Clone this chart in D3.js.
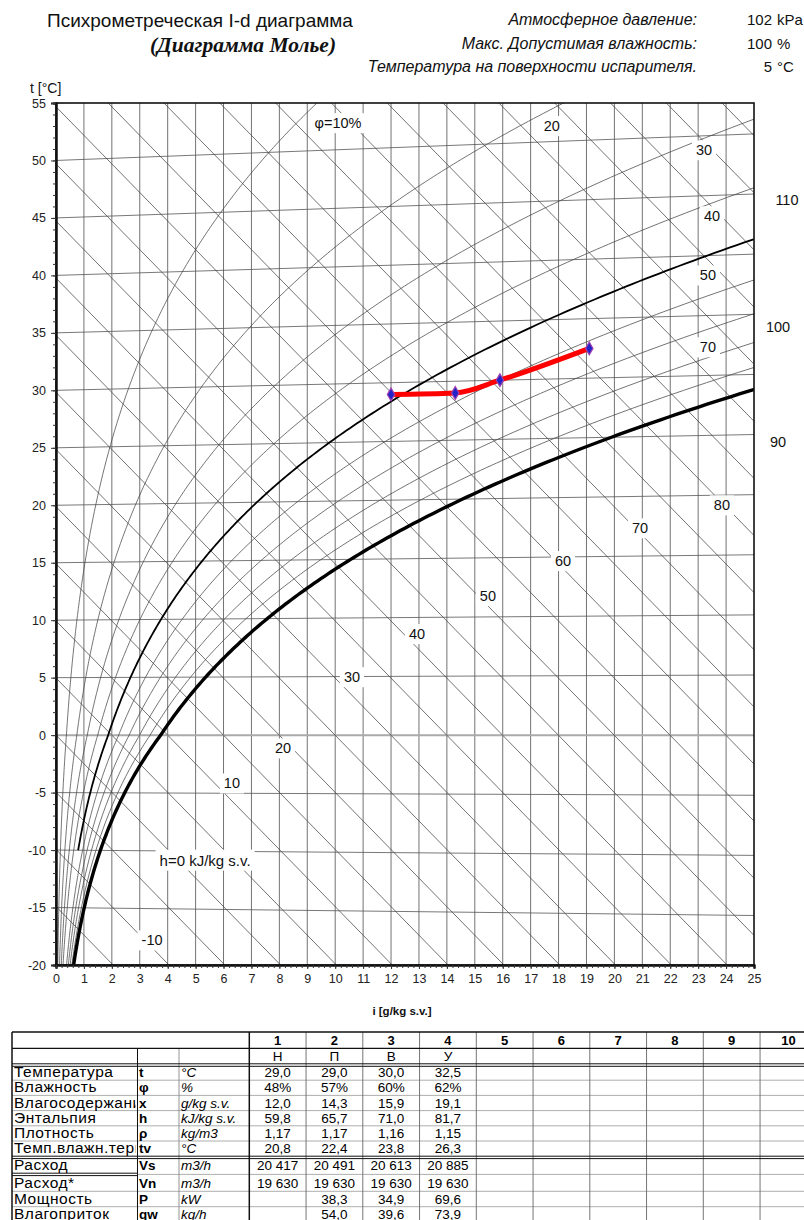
<!DOCTYPE html>
<html>
<head>
<meta charset="utf-8">
<script src="https://cdn.jsdelivr.net/npm/d3@7"></script>
<style>
  body { margin: 0; background: #fff; }
  text { font-family: Arial, "Liberation Sans", sans-serif; }
</style>
</head>
<body>
<div id="chart"></div>
<script>
// --- header info
const infoLabels = ["Атмосферное давление:", "Макс. Допустимая влажность:", "Температура на поверхности испарителя."];
const infoNums = ["102", "100", "5"];
const infoUnits = ["kPa", "%", "°C"];
const pressure = 102; // kPa

// --- process points (Н, П, В, У)
const pointIds = [1, 2, 3, 4, 5, 6, 7, 8, 9, 10];
const pointNames = ["Н", "П", "В", "У"];
const pointX = [12.0, 14.3, 15.9, 19.1];
const pointT = [29.0, 29.0, 30.0, 32.5];
const pointPhi = [48, 57, 60, 62];
const pointH = [59.8, 65.7, 71.0, 81.7];
const pointRho = [1.17, 1.17, 1.16, 1.15];
const pointTv = [20.8, 22.4, 23.8, 26.3];
const pointVs = [20417, 20491, 20613, 20885];
const pointVn = [19630, 19630, 19630, 19630];
const pointPower = [null, 38.3, 34.9, 69.6];
const pointQw = [null, 54.0, 39.6, 73.9];

// --- table rows
const rowNames = ["Температура", "Влажность", "Влагосодержание", "Энтальпия", "Плотность",
  "Темп.влажн.термометра", "Расход", "Расход*", "Мощность", "Влагоприток"];
const rowSymbols = ["t", "φ", "x", "h", "ρ", "tv", "Vs", "Vn", "P", "qw"];
const rowUnits = ["°C", "%", "g/kg s.v.", "kJ/kg s.v.", "kg/m3", "°C", "m3/h", "m3/h", "kW", "kg/h"];

// --- chart line families
const tTicks = d3.range(-20, 56, 5);
const xTicks = d3.range(0, 26, 1);
const hLevels = d3.range(-20, 120, 5);
const phiThin = [10, 20, 30, 40, 60, 70, 80, 90];
const phiMid = 50;
const phiSat = 100;

// labels on the lines, anchored in chart units [g/kg, °C]
const hLabelText = ["h=0 kJ/kg s.v.", "-10", "10", "20", "30", "40", "50", "60", "70", "80", "90", "100", "110"];
const hLabelAt = [[5.34, -10.9], [3.44, -17.85], [6.3, -4.2], [8.13, -1.15], [10.6, 5.05], [12.93, 8.8],
  [15.47, 12.1], [18.16, 15.15], [20.92, 18.0], [23.85, 20.0], [25.86, 25.5], [25.86, 35.5], [26.18, 46.55]];
const phiLabelText = ["φ=10%", "20", "30", "40", "50", "70"];
const phiLabelAt = [[10.1, 53.25], [17.76, 53.0], [23.21, 50.9], [23.5, 45.15], [23.35, 40.0], [23.35, 33.75]];

// --- psychrometrics
const ps = (t) => t >= 0
  ? 0.61094 * Math.exp(17.625 * t / (t + 243.04))
  : 0.61115 * Math.exp(22.452 * t / (272.55 + t));
const moist = (t, phi) => {
  const pv = phi / 100 * ps(t);
  return 622 * pv / (pressure - pv);
};
const ord = (t, xg) => t * (1 + 0.001849 * xg); // Mollier ordinate
const hOrd = (h, xg) => (h - 2.501 * xg) / 1.006;

const W = 804, H = 1220;
const x = d3.scaleLinear().domain([0, 25]).range([56, 754]);
const y = d3.scaleLinear().domain([-20, 55]).range([965, 103]);
const line = d3.line().x((d) => x(d[0])).y((d) => y(d[1]));

const svg = d3.select("#chart").append("svg").attr("width", W).attr("height", H);
const defs = svg.append("defs");

defs.append("clipPath").attr("id", "plotClip")
  .append("rect")
  .attr("x", x(0)).attr("y", y(55))
  .attr("width", x(25) - x(0)).attr("height", y(-20) - y(55));

// header
svg.append("text").attr("x", 47).attr("y", 27)
  .style("font-size", "19px").attr("fill", "#111")
  .text("Психрометреческая I-d диаграмма");
svg.append("text").attr("x", 243).attr("y", 52).attr("text-anchor", "middle")
  .style("font-family", "'Liberation Serif', 'Times New Roman', serif")
  .style("font-size", "21.5px").style("font-weight", "bold").style("font-style", "italic")
  .attr("fill", "#111")
  .text("(Диаграмма Молье)");

const info = svg.append("g").selectAll("g").data(infoLabels).join("g")
  .attr("transform", (d, i) => `translate(0,${25 + i * 23.5})`);
info.append("text").attr("x", 697).attr("text-anchor", "end")
  .style("font-size", "16px").style("font-style", "italic").attr("fill", "#111")
  .text((d) => d);
info.append("text").attr("x", 772).attr("text-anchor", "end")
  .style("font-size", "15px").attr("fill", "#111")
  .text((d, i) => infoNums[i]);
info.append("text").attr("x", 777)
  .style("font-size", "15px").attr("fill", "#111")
  .text((d, i) => infoUnits[i]);

svg.append("text").attr("x", 30).attr("y", 93)
  .style("font-size", "14px").attr("fill", "#111").text("t [°C]");

// plot lines
const plot = svg.append("g").attr("clip-path", "url(#plotClip)");

plot.append("g").selectAll("line").data(xTicks.filter((d) => d > 0 && d < 25)).join("line")
  .attr("x1", (d) => x(d)).attr("x2", (d) => x(d))
  .attr("y1", y(55)).attr("y2", y(-20))
  .attr("stroke", "#444").attr("stroke-width", 0.75);

plot.append("g").selectAll("path").data(tTicks).join("path")
  .attr("d", (t) => line([[0, ord(t, 0)], [25, ord(t, 25)]]))
  .attr("fill", "none")
  .attr("stroke", (t) => (t === 0 ? "#aaa" : "#555"))
  .attr("stroke-width", (t) => (t === 0 ? 2 : 0.8));

plot.append("g").selectAll("path").data(hLevels).join("path")
  .attr("d", (h) => line([[0, hOrd(h, 0)], [25, hOrd(h, 25)]]))
  .attr("fill", "none").attr("stroke", "#444").attr("stroke-width", 0.75);

function phiCurve(phi, tFrom) {
  const pts = [];
  for (let t = tFrom; t <= 65; t += 0.2) {
    const xg = moist(t, phi);
    const yv = ord(t, xg);
    pts.push([xg, yv]);
    if (xg > 26 || yv > 56) break;
  }
  return pts;
}

plot.append("g").selectAll("path").data(phiThin).join("path")
  .attr("d", (p) => line(phiCurve(p, -20)))
  .attr("fill", "none").attr("stroke", "#444").attr("stroke-width", 0.75);

plot.append("path").attr("d", line(phiCurve(phiMid, -10)))
  .attr("fill", "none").attr("stroke", "#000").attr("stroke-width", 1.8);

plot.append("path").attr("d", line(phiCurve(phiSat, -20)))
  .attr("fill", "none").attr("stroke", "#000").attr("stroke-width", 3.4);

// labels with white boxes
function addLabel(g, txt, at, size, box) {
  const lg = g.append("g");
  const t = lg.append("text")
    .attr("x", x(at[0])).attr("y", y(at[1])).attr("dy", "0.35em")
    .attr("text-anchor", "middle")
    .style("font-size", size + "px").attr("fill", "#111").text(txt);
  if (box) {
    const b = t.node().getBBox();
    lg.insert("rect", "text")
      .attr("x", b.x - 4).attr("y", b.y - 2)
      .attr("width", b.width + 8).attr("height", b.height + 4)
      .attr("fill", "#fff");
  }
}
const labels = svg.append("g");
hLabelText.forEach((txt, i) => addLabel(labels, txt, hLabelAt[i], i === 0 ? 15 : 14.5, hLabelAt[i][0] < 25));
phiLabelText.forEach((txt, i) => addLabel(labels, txt, phiLabelAt[i], 14.5, true));

// process line
const proc = pointX.map((xg, i) => [xg, ord(pointT[i], xg)]);
svg.append("path")
  .attr("d", d3.line().x((d) => x(d[0])).y((d) => y(d[1])).curve(d3.curveMonotoneX)(proc))
  .attr("fill", "none").attr("stroke", "#f00").attr("stroke-width", 5)
  .attr("stroke-linejoin", "round");
svg.append("g").selectAll("path").data(proc).join("path")
  .attr("transform", (d) => `translate(${x(d[0])},${y(d[1])})`)
  .attr("d", d3.symbol(d3.symbolDiamond, 48))
  .attr("fill", "#2323c8").attr("stroke", "#a040b0").attr("stroke-width", 1.2);

// frame and axes
svg.append("rect")
  .attr("x", x(0)).attr("y", y(55))
  .attr("width", x(25) - x(0)).attr("height", y(-20) - y(55))
  .attr("fill", "none").attr("stroke", "#111").attr("stroke-width", 1.6);

const plain = (d) => String(d);
svg.append("g").attr("transform", `translate(${x(0)},0)`)
  .call(d3.axisLeft(y).tickValues(tTicks).tickSize(5).tickPadding(5).tickFormat(plain));
svg.append("g").attr("transform", `translate(${x(0)},0)`)
  .call(d3.axisLeft(y).tickValues(d3.range(-20, 56, 1)).tickSize(3).tickFormat(""));
svg.append("g").attr("transform", `translate(0,${y(-20)})`)
  .call(d3.axisBottom(x).tickValues(xTicks).tickSize(4).tickPadding(5).tickFormat(plain));
svg.append("g").attr("transform", `translate(0,${y(-20)})`)
  .call(d3.axisBottom(x).tickValues(d3.range(0, 125, 1).map((d) => d / 5)).tickSize(3).tickFormat(""));
svg.selectAll(".domain").attr("stroke", "#111").attr("stroke-width", 2);
svg.selectAll(".tick line").attr("stroke", "#333");
svg.selectAll(".tick text").style("font-size", "12.5px").attr("fill", "#222")
  .style("font-family", "Arial, 'Liberation Sans', sans-serif");

svg.append("text").attr("x", 402).attr("y", 1015).attr("text-anchor", "middle")
  .style("font-size", "11.5px").style("font-weight", "bold").attr("fill", "#111")
  .text("i [g/kg s.v.]");

// --- table
const fmtLocale = d3.formatLocale({ decimal: ",", thousands: " ", grouping: [3], currency: ["", ""], minus: "-" });
const f1 = fmtLocale.format(".1f"), f2 = fmtLocale.format(".2f"), f0 = fmtLocale.format(",.0f");
const rowValues = [
  pointT.map(f1), pointPhi.map((d) => d + "%"), pointX.map(f1), pointH.map(f1),
  pointRho.map(f2), pointTv.map(f1), pointVs.map(f0), pointVn.map(f0),
  pointPower.map((d) => (d == null ? "" : f1(d))), pointQw.map((d) => (d == null ? "" : f1(d)))
];

const tbl = svg.append("g");
const tLeft = 12, cSym = 137.5, cUnit = 179, cData = 249.3, colW = 56.75, tRight = 804;
const rowTop = (i) => (i < 6 ? 1065 + i * 15.2 : 1158 + (i - 6) * 15.4 + (i >= 7 ? 2.5 : 0));
const rowMid = (i) => rowTop(i) + 7.6;

// clip in the row's own coordinates (rows are translated to their baseline)
defs.append("clipPath").attr("id", "nameClip")
  .append("rect").attr("x", tLeft).attr("y", -20).attr("width", cSym - tLeft - 2).attr("height", 30);

const hl = (y0, x1, x2, col, w) => tbl.append("line")
  .attr("x1", x1).attr("x2", x2).attr("y1", y0).attr("y2", y0)
  .attr("stroke", col).attr("stroke-width", w);
const vl = (x0, y1, y2, col, w) => tbl.append("line")
  .attr("x1", x0).attr("x2", x0).attr("y1", y1).attr("y2", y2)
  .attr("stroke", col).attr("stroke-width", w);

// inner row lines
d3.range(1, 10).forEach((i) => {
  if (i === 6) return;
  if (i === 7) {
    hl(1173.2, tLeft, cSym, "#111", 1);
    hl(1175.6, tLeft, cSym, "#111", 1);
    hl(1174.4, cSym, tRight, "#999", 0.8);
    return;
  }
  hl(rowTop(i), tLeft, tRight, "#999", 0.8);
});
pointIds.forEach((d, k) => { if (k > 0) vl(cData + k * colW, 1032, H, "#666", 0.9); });
vl(cUnit, 1048, H, "#888", 0.9);
vl(cSym, 1048, H, "#111", 1);
vl(cData, 1032, H, "#111", 1.5);
vl(tLeft, 1032, H, "#111", 1.5);
hl(1032, tLeft, tRight, "#111", 1.5);
hl(1048.3, tLeft, tRight, "#111", 1.2);
hl(1063.8, tLeft, tRight, "#111", 1);
hl(1066.3, tLeft, tRight, "#111", 1);
hl(1156.2, tLeft, tRight, "#111", 1);
hl(1158.6, tLeft, tRight, "#111", 1);

tbl.append("g").selectAll("text").data(pointIds).join("text")
  .attr("x", (d, k) => cData + (k + 0.5) * colW).attr("y", 1044.5)
  .attr("text-anchor", "middle").style("font-size", "13px").style("font-weight", "bold")
  .text((d) => d);
tbl.append("g").selectAll("text").data(pointNames).join("text")
  .attr("x", (d, k) => cData + (k + 0.5) * colW).attr("y", 1060.5)
  .attr("text-anchor", "middle").style("font-size", "13.5px")
  .text((d) => d);

const rows = tbl.append("g").selectAll("g").data(rowNames).join("g")
  .attr("transform", (d, i) => `translate(0,${rowMid(i) + 4.6})`);
rows.append("text").attr("x", 14).attr("clip-path", "url(#nameClip)")
  .style("font-size", "15.5px").style("letter-spacing", "0.5px").text((d) => d);
rows.append("text").attr("x", 139).style("font-size", "13.5px").style("font-weight", "bold")
  .text((d, i) => rowSymbols[i]);
rows.append("text").attr("x", 181).style("font-size", "13.5px").style("font-style", "italic")
  .text((d, i) => rowUnits[i]);
rows.each(function (d, i) {
  d3.select(this).selectAll(".v").data(rowValues[i]).join("text")
    .attr("class", "v")
    .attr("x", (v, k) => cData + (k + 0.5) * colW).attr("text-anchor", "middle")
    .style("font-size", "13.5px").text((v) => v);
});
</script>
</body>
</html>
